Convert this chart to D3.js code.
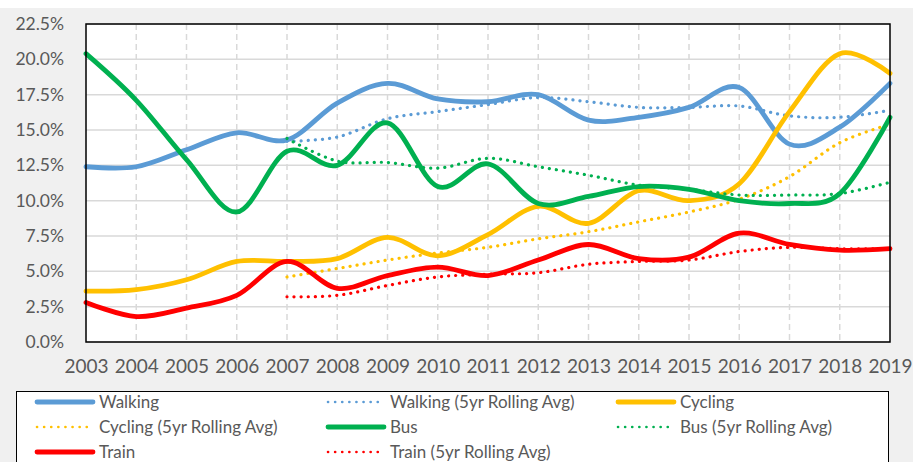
<!DOCTYPE html>
<html>
<head>
<meta charset="UTF-8">
<style>
body { margin: 0; background: #fff; }
svg text { font-family: Lato, "Liberation Sans", sans-serif; fill: #595959; }
.grid-h line { stroke: #d9d9d9; stroke-width: 1.5px; }
.grid-v line { stroke: #d9d9d9; stroke-width: 1.5px; stroke-dasharray: 6 4; }
.series { fill: none; }
</style>
</head>
<body>
<svg class="chart"></svg>
<script src="https://d3js.org/d3.v7.min.js"></script>
<script>

// years on the x axis
var years = [2003, 2004, 2005, 2006, 2007, 2008, 2009, 2010, 2011, 2012, 2013, 2014, 2015, 2016, 2017, 2018, 2019];
var yTicks = [0, 2.5, 5, 7.5, 10, 12.5, 15, 17.5, 20, 22.5];

// share of trips (%)
var walking    = [12.4, 12.4, 13.6, 14.8, 14.3, 16.9, 18.3, 17.2, 17.0, 17.5, 15.7, 15.9, 16.6, 18.0, 14.0, 15.2, 18.3];
var cycling    = [3.6, 3.7, 4.4, 5.7, 5.7, 5.9, 7.4, 6.1, 7.6, 9.6, 8.4, 10.7, 10.0, 11.2, 16.3, 20.4, 19.0];
var bus        = [20.4, 17.1, 12.9, 9.2, 13.5, 12.5, 15.5, 11.0, 12.6, 9.8, 10.3, 11.0, 10.8, 10.0, 9.8, 10.5, 15.9];
var train      = [2.8, 1.8, 2.4, 3.3, 5.7, 3.8, 4.7, 5.3, 4.7, 5.8, 6.9, 5.9, 6.0, 7.7, 6.9, 6.5, 6.6];

// 5 year rolling averages start in 2007
var walkingAvg = [null, null, null, null, 14.2, 14.5, 15.8, 16.3, 16.8, 17.3, 17.0, 16.6, 16.6, 16.7, 16.0, 15.9, 16.4];
var cyclingAvg = [null, null, null, null, 4.6, 5.2, 5.8, 6.3, 6.7, 7.3, 7.8, 8.5, 9.2, 10.1, 11.7, 14.1, 15.4];
var busAvg     = [null, null, null, null, 14.4, 12.8, 12.7, 12.3, 13.0, 12.4, 11.8, 11.1, 10.8, 10.4, 10.4, 10.5, 11.3];
var trainAvg   = [null, null, null, null, 3.2, 3.3, 4.0, 4.6, 4.8, 4.9, 5.5, 5.7, 5.8, 6.4, 6.7, 6.6, 6.6];

var series = [
  {name: "Walking", values: walking, color: "#5b9bd5", dotted: false},
  {name: "Walking (5yr Rolling Avg)", values: walkingAvg, color: "#5b9bd5", dotted: true},
  {name: "Cycling", values: cycling, color: "#ffc000", dotted: false},
  {name: "Cycling (5yr Rolling Avg)", values: cyclingAvg, color: "#ffc000", dotted: true},
  {name: "Bus", values: bus, color: "#00b050", dotted: false},
  {name: "Bus (5yr Rolling Avg)", values: busAvg, color: "#00b050", dotted: true},
  {name: "Train", values: train, color: "#ff0000", dotted: false},
  {name: "Train (5yr Rolling Avg)", values: trainAvg, color: "#ff0000", dotted: true}
];

var W = 913, H = 462;
var plot = {left: 86, top: 24, right: 890, bottom: 342};

var svg = d3.select(".chart").attr("width", W).attr("height", H);

// grey chart background
svg.append("rect").attr("x", 0).attr("y", 8).attr("width", W).attr("height", H - 8).attr("fill", "#f0f0f0");
svg.append("rect")
    .attr("x", plot.left).attr("y", plot.top)
    .attr("width", plot.right - plot.left).attr("height", plot.bottom - plot.top)
    .attr("fill", "#fff");

var x = d3.scaleLinear().domain([2003, 2019]).range([plot.left, plot.right]);
var y = d3.scaleLinear().domain([0, 22.5]).range([plot.bottom, plot.top]);

// gridlines
svg.append("g").attr("class", "grid-h")
  .selectAll("line").data(yTicks).join("line")
    .attr("x1", plot.left).attr("x2", plot.right)
    .attr("y1", d => y(d)).attr("y2", d => y(d));

svg.append("g").attr("class", "grid-v")
  .selectAll("line").data(years.slice(1, -1)).join("line")
    .attr("x1", d => x(d)).attr("x2", d => x(d))
    .attr("y1", plot.top).attr("y2", plot.bottom);

// axes labels
var yAxis = svg.append("g")
    .attr("transform", "translate(" + plot.left + ",0)")
    .call(d3.axisLeft(y).tickValues(yTicks).tickFormat(d => d.toFixed(1) + "%").tickSize(0).tickPadding(22));
yAxis.select(".domain").remove();
yAxis.selectAll("text").style("font-size", "17.5px").attr("fill", "#595959");

var xAxis = svg.append("g")
    .attr("transform", "translate(0," + plot.bottom + ")")
    .call(d3.axisBottom(x).tickValues(years).tickFormat(d3.format("d")).tickSize(0).tickPadding(18));
xAxis.select(".domain").remove();
xAxis.selectAll("text").style("font-size", "19px").attr("fill", "#595959");

// lines
var line = d3.line()
    .x(d => x(d[0]))
    .y(d => y(d[1]))
    .curve(d3.curveCardinal.tension(0));

svg.append("g").selectAll("path").data(series).join("path")
    .attr("class", "series")
    .attr("d", s => line(years.map((yr, i) => [yr, s.values[i]]).filter(d => d[1] != null)))
    .attr("stroke", s => s.color)
    .attr("stroke-width", s => s.dotted ? 3.2 : 4.8)
    .attr("stroke-linecap", "round")
    .attr("stroke-dasharray", s => s.dotted ? "0.1 7" : null);

// plot border
svg.append("rect")
    .attr("x", plot.left).attr("y", plot.top)
    .attr("width", plot.right - plot.left).attr("height", plot.bottom - plot.top)
    .attr("fill", "none").attr("stroke", "#000").attr("stroke-width", 1.5);

// legend
var legend = svg.append("g");
legend.append("rect")
    .attr("x", 16.5).attr("y", 391.5).attr("width", 872).attr("height", 90)
    .attr("fill", "#fff").attr("stroke", "#000").attr("stroke-width", 1);

var colX = [37, 328, 618], rowY = [402, 427, 452];
var item = legend.selectAll("g.item").data(series).join("g")
    .attr("class", "item")
    .attr("transform", (d, i) => "translate(" + colX[i % 3] + "," + rowY[Math.floor(i / 3)] + ")");

item.append("line")
    .attr("x1", 0).attr("x2", 56).attr("y1", 0).attr("y2", 0)
    .attr("stroke", d => d.color)
    .attr("stroke-width", d => d.dotted ? 2.6 : 4.8)
    .attr("stroke-linecap", "round")
    .attr("stroke-dasharray", d => d.dotted ? "0.1 7" : null);

item.append("text")
    .attr("x", 62).attr("dy", "0.35em")
    .style("font-size", "17px")
    .text(d => d.name);

</script>
</body>
</html>
